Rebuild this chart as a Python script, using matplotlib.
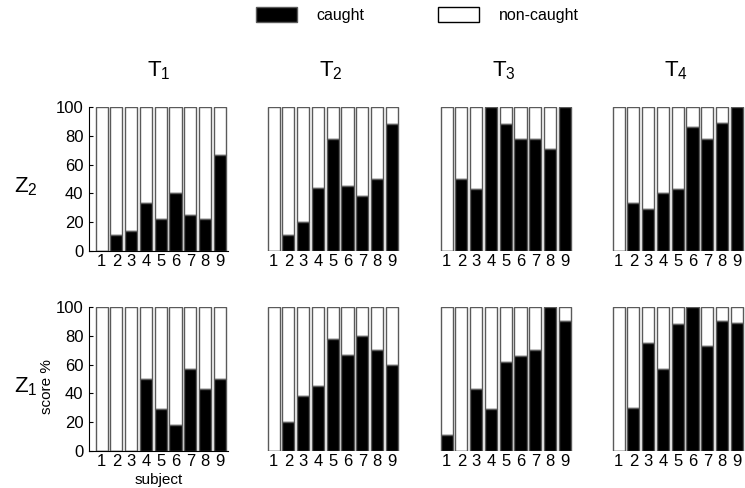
import numpy as np
import matplotlib
matplotlib.use("Agg")
import matplotlib.pyplot as plt
from matplotlib.patches import Patch

plt.rcParams['font.family'] = ['Liberation Sans', 'DejaVu Sans']
plt.rcParams['mathtext.default'] = 'regular'

subjects = np.arange(1, 10)
conditions = ["T$_1$", "T$_2$", "T$_3$", "T$_4$"]
rows = ["Z$_2$", "Z$_1$"]

# caught score % per subject
z2_t1 = [0, 11, 14, 33, 22, 40, 25, 22, 67]
z2_t2 = [0, 11, 20, 44, 78, 45, 38, 50, 88]
z2_t3 = [0, 50, 43, 100, 88, 78, 78, 71, 100]
z2_t4 = [0, 33, 29, 40, 43, 86, 78, 89, 100]
z1_t1 = [0, 0, 0, 50, 29, 18, 57, 43, 50]
z1_t2 = [0, 20, 38, 45, 78, 67, 80, 70, 60]
z1_t3 = [11, 0, 43, 29, 62, 66, 70, 100, 90]
z1_t4 = [0, 30, 75, 57, 88, 100, 73, 90, 89]

data = [[z2_t1, z2_t2, z2_t3, z2_t4],
        [z1_t1, z1_t2, z1_t3, z1_t4]]

W, H = 745, 488
fig = plt.figure(figsize=(W / 100, H / 100), dpi=100)

lefts = [89, 261, 434, 606]
tops = [107, 307]
aw, ah = 139, 144
edge = '#5a5a5a'

for r in range(2):
    for c in range(4):
        ax = fig.add_axes([lefts[c] / W, 1 - (tops[r] + ah) / H, aw / W, ah / H])
        caught = np.array(data[r][c])
        ax.bar(subjects, 100 - caught, bottom=caught, width=0.82,
               color='white', edgecolor=edge, linewidth=1)
        ax.bar(subjects, caught, width=0.82, color='black',
               edgecolor=edge, linewidth=1)
        ax.set_xlim(0.15, 9.55)
        ax.set_ylim(0, 100)
        ax.set_xticks(subjects)
        ax.tick_params(axis='x', length=0, labelsize=12, pad=2)
        for s in ['top', 'right']:
            ax.spines[s].set_visible(False)
        if c == 0:
            ax.set_yticks([0, 20, 40, 60, 80, 100])
            ax.tick_params(axis='y', direction='in', length=3, labelsize=12, pad=4)
        else:
            ax.set_yticks([])
            ax.spines['left'].set_visible(False)
            ax.spines['bottom'].set_visible(False)
        if r == 0:
            ax.set_title(conditions[c], fontsize=16, pad=22)
        if r == 1 and c == 0:
            ax.set_ylabel("score %", fontsize=11)
            ax.yaxis.set_label_coords(-0.255, 0.45)
            ax.set_xlabel("subject", fontsize=11)
            ax.xaxis.set_label_coords(0.5, -0.155)
    fig.text(26 / W, 1 - (tops[r] + ah / 2 + 8) / H, rows[r], fontsize=16,
             ha='center', va='center')

handles = [Patch(facecolor='black', edgecolor=edge, label='caught'),
           Patch(facecolor='white', edgecolor='black', label='non-caught')]
fig.legend(handles=handles, loc='upper center', bbox_to_anchor=(0.56, 1.015),
           ncol=2, frameon=False, fontsize=11.5, handlelength=2.6,
           handleheight=1.1, columnspacing=4.6, handletextpad=1.2)

fig.savefig("out.png", dpi=100)
